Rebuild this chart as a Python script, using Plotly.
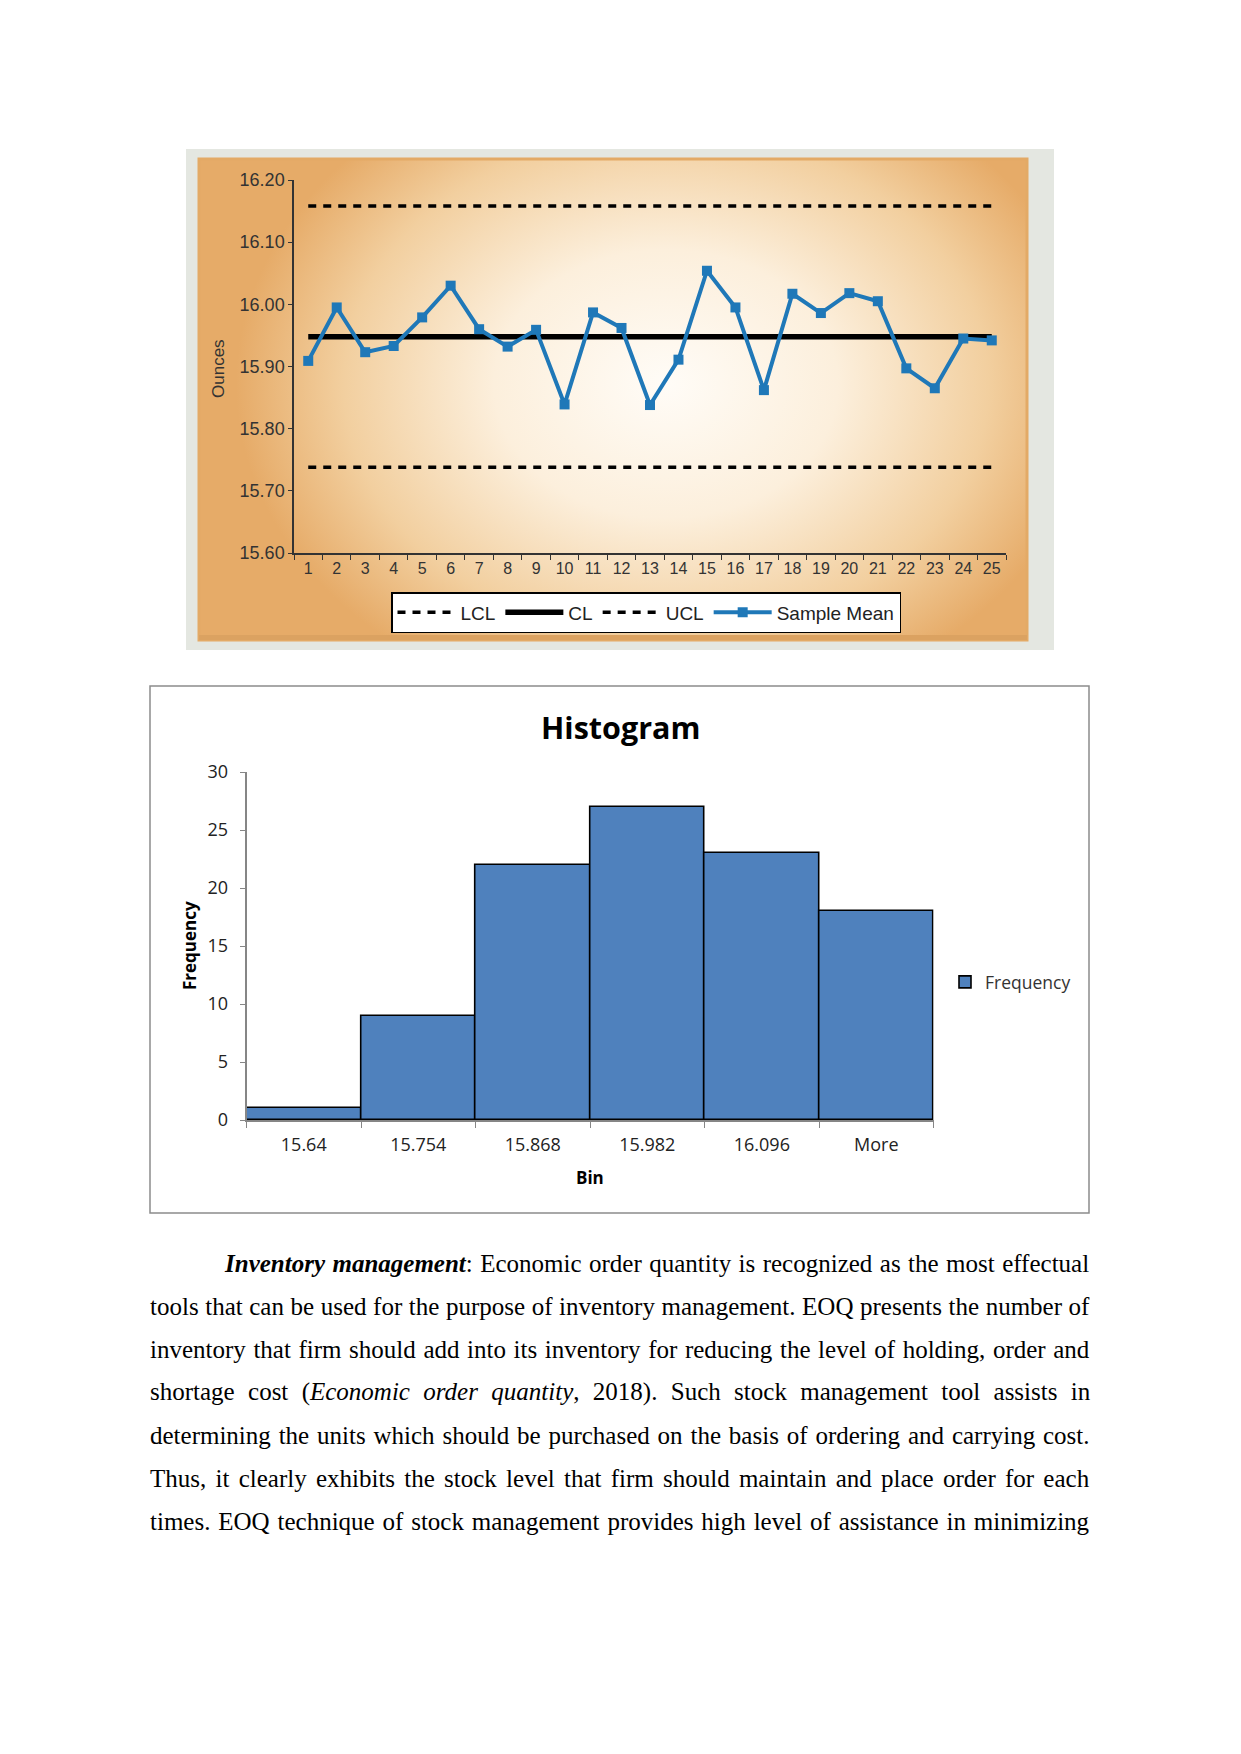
import base64

import plotly.graph_objects as go

W, H = 1241, 1754
SHIFT = 8  # the page body adds an 8px margin around the figure

# ---- control chart data ----
samples = [str(i) for i in range(1, 26)]
sample_mean = [15.909, 15.995, 15.923, 15.933, 15.979, 16.030, 15.960, 15.932, 15.959, 15.839,
               15.987, 15.962, 15.838, 15.911, 16.054, 15.995, 15.862, 16.017, 15.986, 16.018,
               16.005, 15.897, 15.865, 15.945, 15.942]
ucl, cl, lcl = 16.158, 15.948, 15.738
ounce_ticks = [15.60, 15.70, 15.80, 15.90, 16.00, 16.10, 16.20]

# ---- histogram data ----
bins = ["15.64", "15.754", "15.868", "15.982", "16.096", "More"]
frequency = [1, 9, 22, 27, 23, 18]
freq_ticks = [0, 5, 10, 15, 20, 25, 30]

# ---- body text, one entry per printed line ----
para_lines = [
    "<b><i>Inventory management</i></b>: Economic order quantity is recognized as the most effectual",
    "tools that can be used for the purpose of inventory management. EOQ presents the number of",
    "inventory that firm should add into its inventory for reducing the level of holding, order and",
    "shortage cost (<i>Economic order quantity</i>, 2018). Such stock management tool assists in",
    "determining the units which should be purchased on the basis of ordering and carrying cost.",
    "Thus, it clearly exhibits the stock level that firm should maintain and place order for each",
    "times. EOQ technique of stock management provides high level of assistance in minimizing",
]
# extra word spacing (px) so each line is justified
para_spacing = [1.2, 0.33, 1.34, 7.1, 1.6, 3.0, 1.6]


def px(x):
    return (x - SHIFT) / W


def py(y):
    return 1 - (y - SHIFT) / H


# orange gradient panel behind the control chart, as an inline svg
panel_svg = """<svg xmlns="http://www.w3.org/2000/svg" width="868" height="501" viewBox="0 0 868 501" preserveAspectRatio="none">
<defs><radialGradient id="g" gradientUnits="userSpaceOnUse" cx="480" cy="235" r="430"
 gradientTransform="translate(480 235) scale(1 0.78) translate(-480 -235)">
<stop offset="0" stop-color="#fffcf7"/><stop offset="0.4" stop-color="#fcefdc"/>
<stop offset="0.75" stop-color="#f2cf9f"/><stop offset="1" stop-color="#e6ab68"/></radialGradient></defs>
<rect width="868" height="501" fill="#e4e7e1"/>
<rect x="13" y="10" width="828" height="481" fill="url(#g)" stroke="#e3aa66" stroke-width="3"/>
<rect x="13" y="486" width="828" height="5" fill="#dba261"/>
</svg>"""
panel_src = "data:image/svg+xml;base64," + base64.b64encode(panel_svg.encode()).decode()

fig = go.Figure()

line_dash = "8px,7px"
fig.add_trace(go.Scatter(x=[samples[0], samples[-1]], y=[lcl, lcl], mode="lines", name="LCL",
                         line=dict(color="black", width=3.5, dash=line_dash),
                         xaxis="x", yaxis="y", legend="legend"))
fig.add_trace(go.Scatter(x=[samples[0], samples[-1]], y=[cl, cl], mode="lines", name="CL",
                         line=dict(color="black", width=5.5),
                         xaxis="x", yaxis="y", legend="legend"))
fig.add_trace(go.Scatter(x=[samples[0], samples[-1]], y=[ucl, ucl], mode="lines", name="UCL",
                         line=dict(color="black", width=3.5, dash=line_dash),
                         xaxis="x", yaxis="y", legend="legend"))
fig.add_trace(go.Scatter(x=samples, y=sample_mean, mode="lines+markers", name="Sample Mean",
                         line=dict(color="#1f78b8", width=4),
                         marker=dict(symbol="square", size=10, color="#1f78b8"),
                         xaxis="x", yaxis="y", legend="legend"))

fig.add_trace(go.Bar(x=bins, y=frequency, name="Frequency",
                     marker=dict(color="#4f81bd", line=dict(color="black", width=1.6)),
                     xaxis="x2", yaxis="y2", legend="legend2"))

fig.update_layout(
    width=W, height=H, autosize=False,
    margin=dict(l=0, r=0, t=0, b=0, autoexpand=False),
    paper_bgcolor="white", plot_bgcolor="rgba(0,0,0,0)",
    bargap=0,
    xaxis=dict(domain=[px(294), px(1006)], anchor="y", type="category", automargin=False,
               categoryorder="array", categoryarray=samples, range=[-0.5, 24.5],
               tickson="boundaries", ticks="outside", ticklen=5, tickcolor="#333",
               showline=True, linecolor="#333", linewidth=1.5, showgrid=False,
               tickangle=0, tickfont=dict(family="Liberation Sans", size=16, color="#333")),
    yaxis=dict(domain=[py(553), py(180)], anchor="x", range=[15.6, 16.2], automargin=False,
               tickvals=ounce_ticks, tickformat=".2f", ticks="outside", ticklen=4,
               tickcolor="#333", showline=True, linecolor="#333", linewidth=1.5,
               showgrid=False, zeroline=False,
               tickfont=dict(family="Liberation Sans", size=18, color="#333")),
    xaxis2=dict(domain=[px(246.5), px(933.6)], anchor="y2", type="category", automargin=False,
                tickson="boundaries", ticks="outside", ticklen=6, tickcolor="#868686",
                showline=True, linecolor="#868686", linewidth=1.5, showgrid=False,
                ticklabelstandoff=8,
                tickfont=dict(family="Open Sans", size=18, color="#222")),
    yaxis2=dict(domain=[py(1120), py(772)], anchor="x2", range=[0, 30], automargin=False,
                tickvals=freq_ticks, ticks="outside", ticklen=5, tickcolor="#868686",
                showline=True, linecolor="#868686", linewidth=1.5, showgrid=False,
                zeroline=False, ticklabelstandoff=8,
                tickfont=dict(family="Open Sans", size=18, color="#222")),
    legend=dict(orientation="h", x=px(646), y=py(592), xanchor="center", yanchor="top",
                bgcolor="white", bordercolor="black", borderwidth=1.5, itemwidth=58,
                font=dict(family="Liberation Sans", size=19, color="#222")),
    legend2=dict(x=px(945), y=py(982), xanchor="left", yanchor="middle",
                 bgcolor="rgba(0,0,0,0)", itemwidth=30,
                 font=dict(family="Open Sans", size=17.5, color="#333")),
    images=[dict(source=panel_src, xref="paper", yref="paper", x=px(186), y=py(149),
                 sizex=868 / W, sizey=501 / H, xanchor="left", yanchor="top",
                 sizing="stretch", layer="below")],
    shapes=[dict(type="rect", xref="paper", yref="paper", x0=px(150), x1=px(1089),
                 y0=py(1213), y1=py(686), line=dict(color="#8c8c8c", width=1.5),
                 fillcolor="white", layer="below")],
)


def label(x, y, text, size, family, angle=0, color="black"):
    fig.add_annotation(x=px(x), y=py(y), xref="paper", yref="paper", text=text,
                       textangle=angle, showarrow=False, xanchor="center", yanchor="middle",
                       font=dict(family=family, size=size, color=color))


# axis titles and chart title
label(219, 369, "Ounces", 17, "Liberation Sans", angle=-90, color="#333")
label(620, 727, "<b>Histogram</b>", 30.5, "Open Sans")
label(190, 946, "<b>Frequency</b>", 17, "Open Sans", angle=-90)
label(590, 1177, "<b>Bin</b>", 17, "Open Sans")

# paragraph under the charts
for i, (txt, ws) in enumerate(zip(para_lines, para_spacing)):
    x0 = 222 if i == 0 else 148
    fig.add_annotation(x=px(x0), y=py(1263 + i * 43.1), xref="paper", yref="paper",
                       xanchor="left", yanchor="middle", showarrow=False,
                       text=f'<span style="word-spacing:{ws}px">{txt}</span>',
                       font=dict(family="Liberation Serif", size=25, color="black"))

fig.write_html("out.html")
